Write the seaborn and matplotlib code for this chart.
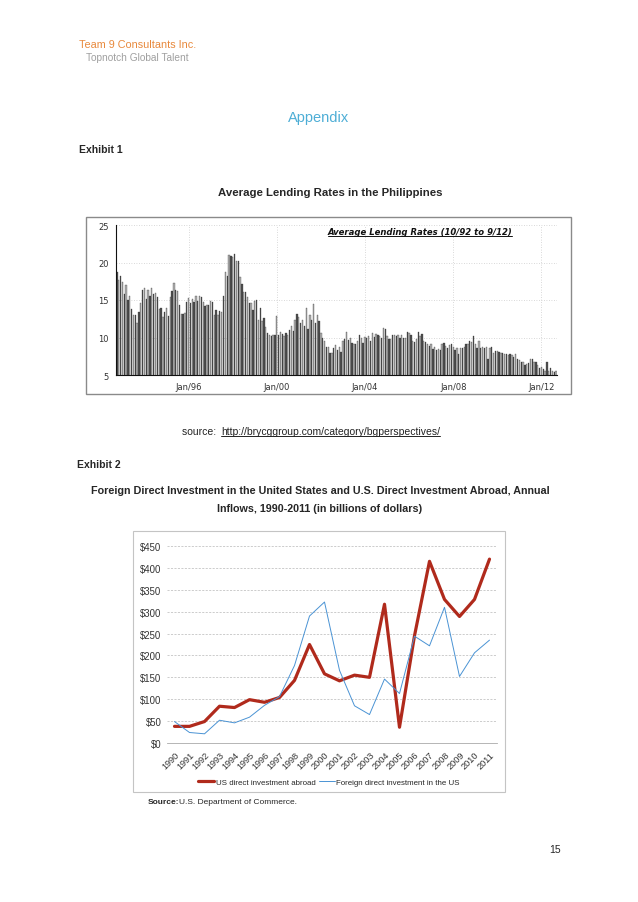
import matplotlib
matplotlib.use("Agg")
import matplotlib.pyplot as plt
from matplotlib.patches import Rectangle
from matplotlib.lines import Line2D
import numpy as np
import seaborn as sns

W, H = 638, 903

# Exhibit 1: monthly average lending rates, Oct 1992 .. Sep 2012
rates_1992 = [18.8, 17.7, 18.2]
rates_1993 = [17.4, 15.8, 17.0, 15.0, 15.6, 13.8, 13.0, 13.0, 11.9, 13.4, 14.6, 16.4]
rates_1994 = [16.6, 15.1, 16.3, 15.5, 16.6, 15.8, 16.0, 15.4, 13.8, 13.9, 12.8, 13.4]
rates_1995 = [13.9, 12.9, 15.4, 16.2, 17.3, 16.4, 16.2, 14.4, 13.1, 13.2, 13.3, 14.7]
rates_1996 = [15.3, 14.6, 15.2, 14.8, 15.5, 14.9, 15.6, 15.4, 14.7, 14.2, 14.3, 14.4]
rates_1997 = [14.9, 14.7, 13.0, 13.7, 13.0, 13.5, 13.4, 15.5, 18.7, 18.2, 21.0, 20.9]
rates_1998 = [20.7, 21.2, 20.2, 20.2, 18.1, 17.1, 16.1, 16.1, 15.4, 14.6, 14.6, 13.7]
rates_1999 = [14.9, 15.0, 12.4, 14.0, 12.2, 12.6, 11.4, 10.6, 10.3, 10.2, 10.4, 10.3]
rates_2000 = [12.9, 10.3, 10.7, 10.5, 10.2, 10.6, 10.4, 11.0, 11.6, 10.9, 12.4, 13.1]
rates_2001 = [12.8, 12.0, 12.4, 11.6, 14.0, 11.2, 13.0, 12.3, 14.5, 11.9, 13.0, 12.2]
rates_2002 = [10.6, 9.9, 9.6, 8.7, 8.8, 8.0, 8.0, 8.6, 9.0, 8.3, 8.7, 8.1]
rates_2003 = [9.5, 9.8, 10.8, 9.7, 9.9, 9.3, 9.2, 9.2, 9.5, 10.3, 9.9, 9.3]
rates_2004 = [10.1, 10.0, 10.2, 9.5, 10.6, 10.1, 10.5, 10.3, 10.2, 9.9, 11.3, 11.1]
rates_2005 = [10.2, 9.8, 9.8, 10.4, 10.3, 10.2, 10.3, 10.0, 10.4, 10.0, 9.9, 10.8]
rates_2006 = [10.6, 10.3, 9.6, 9.4, 9.8, 10.8, 10.2, 10.5, 9.6, 9.4, 9.2, 8.9]
rates_2007 = [9.2, 8.5, 8.8, 8.3, 8.5, 8.3, 9.2, 9.3, 8.9, 8.6, 9.0, 9.1]
rates_2008 = [8.7, 8.4, 8.6, 7.8, 8.6, 8.6, 8.7, 9.1, 9.2, 9.6, 9.4, 10.2]
rates_2009 = [9.2, 8.6, 9.6, 8.6, 8.7, 8.6, 8.7, 7.1, 8.6, 8.7, 8.0, 8.2]
rates_2010 = [8.2, 8.1, 7.9, 7.9, 7.8, 7.8, 7.7, 7.8, 7.7, 7.4, 7.8, 7.2]
rates_2011 = [7.0, 6.8, 6.7, 6.3, 6.5, 6.6, 7.2, 7.1, 6.8, 6.8, 6.3, 6.0]
rates_2012 = [6.1, 5.8, 5.6, 6.7, 5.6, 6.0, 5.6, 5.4, 5.6]

rates = (rates_1992 + rates_1993 + rates_1994 + rates_1995 + rates_1996 + rates_1997
         + rates_1998 + rates_1999 + rates_2000 + rates_2001 + rates_2002 + rates_2003
         + rates_2004 + rates_2005 + rates_2006 + rates_2007 + rates_2008 + rates_2009
         + rates_2010 + rates_2011 + rates_2012)
rate_ticks = ["Jan/96", "Jan/00", "Jan/04", "Jan/08", "Jan/12"]
rate_tick_pos = [39, 87, 135, 183, 231]

# Exhibit 2: FDI flows, billions of dollars
years = [str(y) for y in range(1990, 2012)]
us_abroad = [38, 38, 49, 84, 81, 99, 93, 104, 143, 225, 158, 142, 155, 150, 317, 36,
             245, 415, 328, 289, 328, 420]
foreign_in_us = [49, 24, 21, 52, 46, 59, 86, 106, 177, 290, 322, 166, 85, 65, 146, 113,
                 244, 222, 310, 152, 206, 235]


def rect(left, top, right, bottom):
    return [left / W, 1 - bottom / H, (right - left) / W, (bottom - top) / H]


def pt(x, y):
    return x / W, 1 - y / H


sns.set_theme(style="white")
plt.rcParams["font.family"] = ["Liberation Sans", "DejaVu Sans"]

fig = plt.figure(figsize=(W / 100, H / 100), dpi=100)

# page header / captions
fig.text(*pt(79, 45), "Team 9 Consultants Inc.", color="#e8893c", fontsize=7.8, va="center")
fig.text(*pt(86, 58), "Topnotch Global Talent", color="#a0a0a0", fontsize=7.3, va="center")
fig.text(*pt(319, 118), "Appendix", color="#4eaed6", fontsize=10.5, ha="center", va="center")
fig.text(*pt(79, 150), "Exhibit 1", fontsize=7.5, fontweight="bold", va="center")
fig.text(*pt(330, 193), "Average Lending Rates in the Philippines", fontsize=8.2,
         fontweight="bold", ha="center", va="center")
fig.text(*pt(77, 465), "Exhibit 2", fontsize=7.5, fontweight="bold", va="center")
fig.text(*pt(320, 491), "Foreign Direct Investment in the United States and U.S. Direct "
         "Investment Abroad, Annual", fontsize=7.75, fontweight="bold", ha="center", va="center")
fig.text(*pt(320, 509), "Inflows, 1990-2011 (in billions of dollars)", fontsize=7.75,
         fontweight="bold", ha="center", va="center")
fig.text(*pt(549, 850), "15", fontsize=7.5, va="center")

fig.text(*pt(182, 432), "source: ", fontsize=7.5, color="#222222", va="center")
url = fig.text(*pt(221, 432), "http://brycggroup.com/category/bgperspectives/", fontsize=7.5,
               color="#222222", va="center")

# frames around the two pasted charts
fig.patches.append(Rectangle((86 / W, 1 - 395 / H), (571 - 86) / W, (395 - 218) / H,
                             transform=fig.transFigure, fill=False, edgecolor="#8a8a8a", lw=1))
fig.patches.append(Rectangle((133 / W, 1 - 793 / H), (505 - 133) / W, (793 - 532) / H,
                             transform=fig.transFigure, fill=False, edgecolor="#c4c4c4", lw=0.8))

# ---- chart 1: bars
ax1 = fig.add_axes(rect(116, 226, 557, 376))
idx = np.arange(len(rates))
colors = ["#505050" if i % 2 == 0 else "#b0b0b0" for i in idx]
sns.barplot(x=idx, y=rates, hue=idx, palette=colors, legend=False, width=0.72,
            edgecolor="#2a2a2a", linewidth=0.2, saturation=1, ax=ax1)
ax1.set_xlim(-0.5, len(rates) - 0.5)
ax1.set_ylim(5, 25)
ax1.set_yticks([5, 10, 15, 20, 25])
ax1.set_xticks(rate_tick_pos)
ax1.set_xticklabels(rate_ticks)
ax1.grid(True, color="#cccccc", linestyle=(0, (1, 2)), linewidth=0.6)
ax1.set_axisbelow(True)
for s in ["top", "right"]:
    ax1.spines[s].set_visible(False)
for s in ["left", "bottom"]:
    ax1.spines[s].set_color("#111111")
    ax1.spines[s].set_linewidth(0.8)
ax1.tick_params(axis="both", labelsize=6, colors="#333333", length=3, width=0.6,
                direction="out", pad=2)
for lab in ax1.get_xticklabels() + ax1.get_yticklabels():
    lab.set_fontfamily("DejaVu Sans")
ax1.set_xlabel("")
ax1.set_ylabel("")
t1 = fig.text(*pt(420, 233), "Average Lending Rates (10/92 to 9/12)",
              fontsize=6.1, fontweight="bold", fontstyle="italic", color="#111111",
              ha="center", va="center", fontfamily="DejaVu Sans")

# ---- chart 2: lines
ax2 = fig.add_axes(rect(167, 547, 497, 744))
xpos = np.arange(len(years))
sns.lineplot(x=xpos, y=us_abroad, color="#b02a1c", linewidth=2.3,
             label="US direct investment abroad", ax=ax2)
sns.lineplot(x=xpos, y=foreign_in_us, color="#4a93d4", linewidth=0.7,
             label="Foreign direct investment in the US", ax=ax2)
ax2.set_xlim(-0.5, len(years) - 0.5)
ax2.set_ylim(0, 450)
ax2.set_yticks(range(0, 451, 50))
ax2.set_yticklabels([f"${v}" for v in range(0, 451, 50)])
ax2.set_xticks(xpos)
ax2.set_xticklabels(years, rotation=45, ha="right", rotation_mode="anchor")
ax2.set_xticks(np.arange(-0.5, len(years), 1), minor=True)
ax2.tick_params(axis="x", which="major", length=0, labelsize=6.6, pad=5, colors="#333333")
ax2.tick_params(axis="x", which="minor", length=3, width=0.5, color="#999999")
ax2.tick_params(axis="y", length=0, labelsize=6.9, pad=4, colors="#333333")
ax2.yaxis.grid(True, color="#b8b8b8", linestyle=(0, (3, 2)), linewidth=0.5)
ax2.set_axisbelow(True)
for s in ["top", "right", "left"]:
    ax2.spines[s].set_visible(False)
ax2.spines["bottom"].set_color("#aaaaaa")
ax2.spines["bottom"].set_linewidth(0.6)
ax2.legend(loc="center", bbox_to_anchor=pt(329, 783), bbox_transform=fig.transFigure,
           ncol=2, frameon=False, fontsize=5.7, handlelength=2.0, columnspacing=0.4,
           handletextpad=0.2)
ax2.set_xlabel("")
ax2.set_ylabel("")

fig.text(*pt(148, 803), "Source:", fontsize=6, fontweight="bold", va="center")
fig.text(*pt(179, 803), "U.S. Department of Commerce.", fontsize=6, va="center")

# underlines for the link and the chart 1 inner title
fig.canvas.draw()
r = fig.canvas.get_renderer()
for t in [url, t1]:
    bb = t.get_window_extent(r)
    fig.lines.append(Line2D([bb.x0 / W, bb.x1 / W], [(bb.y0 + 0.5) / H] * 2,
                            transform=fig.transFigure, color=t.get_color(), lw=0.7))

fig.savefig("out.png", dpi=100)
